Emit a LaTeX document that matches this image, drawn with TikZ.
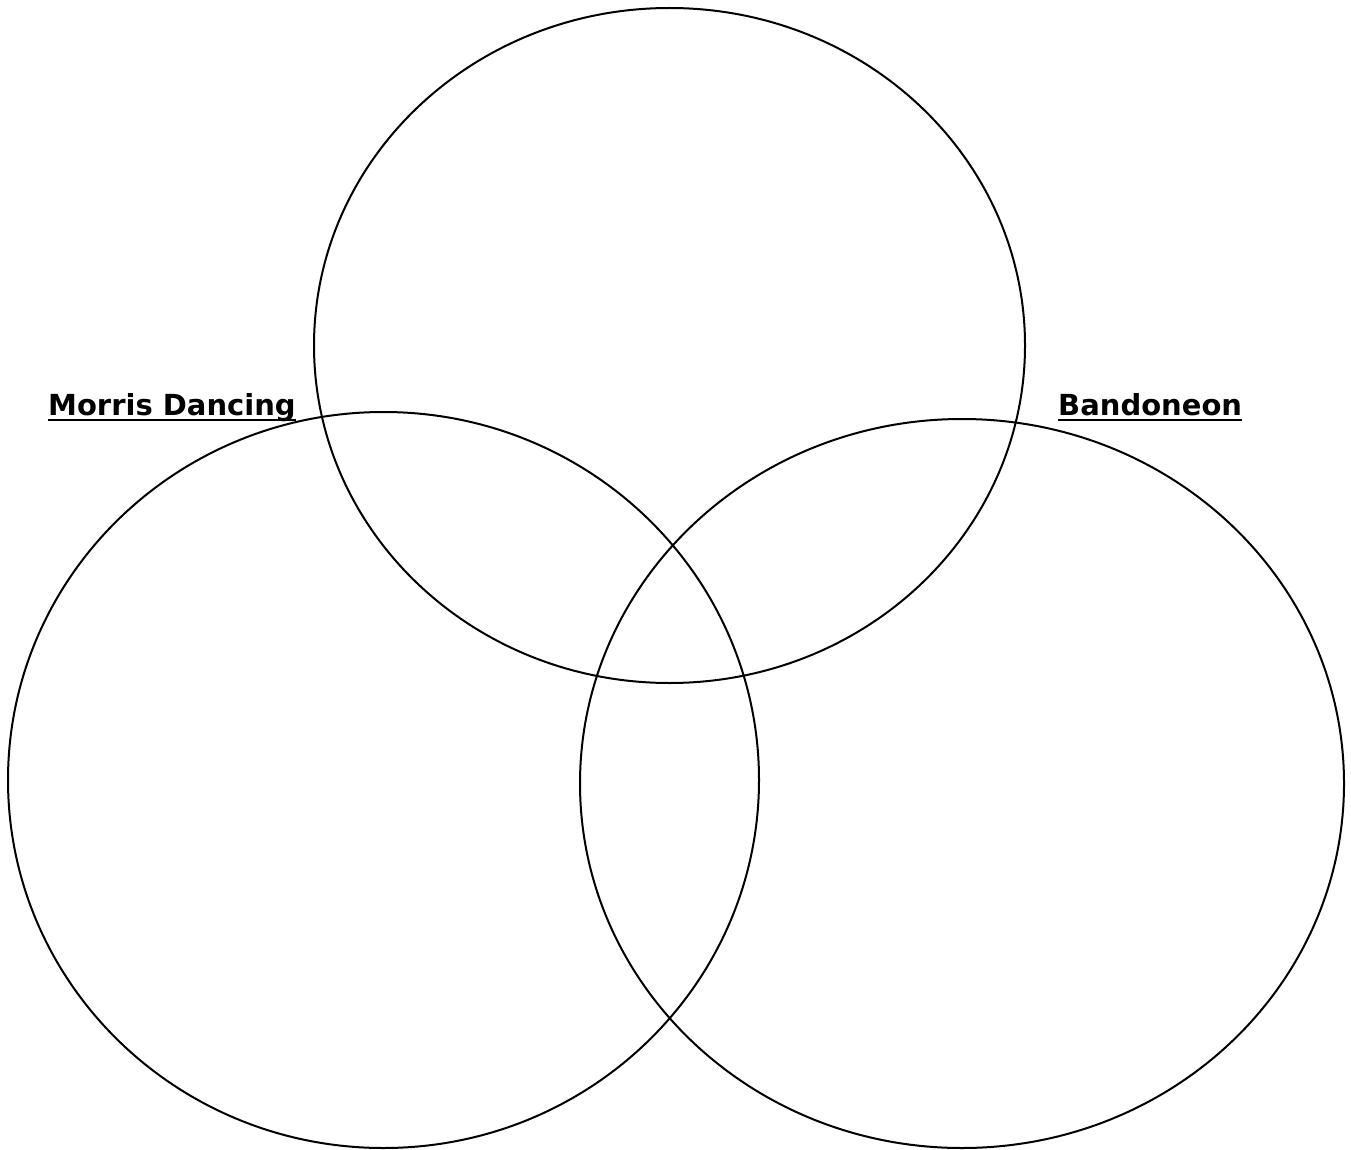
\documentclass[tikz,border=0pt]{standalone}
\usepackage{fontspec}
\setmainfont{DejaVu Sans}
\usepackage{tikz}
\usetikzlibrary{shapes.geometric, positioning, calc}
\tikzset{
  ring/.style={
    ellipse,
    draw=black,
    line width=2pt,
    inner sep=0pt,
    outer sep=0pt
  },
  title/.style={
    inner sep=0pt,
    anchor=base west,
    font=\fontsize{29}{34}\selectfont\bfseries
  },
  uline/.style={
    line width=2.2pt
  }
}
\begin{document}
\begin{tikzpicture}[x=1pt, y=-1pt]
  \useasboundingbox (0,0) rectangle (1351,1150);

  % Circles
  \node (upper) [ring, minimum width=711, minimum height=675] at (669.5,345.5) {};
  \node (morris) [ring, minimum width=751, minimum height=736] at (383.5,780) {};
  \node (bando) [ring, minimum width=764, minimum height=729] at (962,783.5) {};

  % Labels
  \node (mdlabel) [title] at (48,415) {Morris Dancing};
  \node (bdlabel) [title] at (1058,415) {Bandoneon};
  \draw[uline] ([yshift=-5pt]mdlabel.base west) -- ([yshift=-5pt]mdlabel.base east);
  \draw[uline] ([yshift=-5pt]bdlabel.base west) -- ([yshift=-5pt]bdlabel.base east);

\end{tikzpicture}
\end{document}
